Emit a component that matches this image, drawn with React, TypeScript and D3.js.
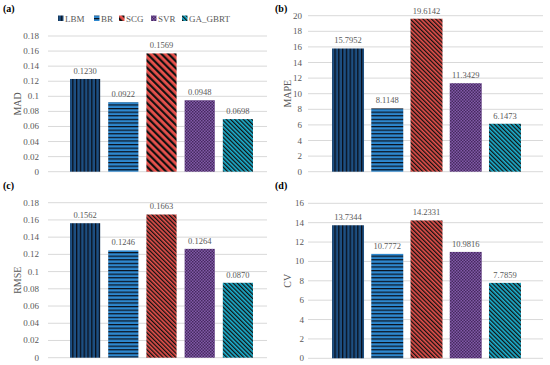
import React from "react";
import * as d3 from "d3";

const categories = ["LBM", "BR", "SCG", "SVR", "GA_GBRT"];
const madValues = [0.123, 0.0922, 0.1569, 0.0948, 0.0698];
const mapeValues = [15.7952, 8.1148, 19.6142, 11.3429, 6.1473];
const rmseValues = [0.1562, 0.1246, 0.1663, 0.1264, 0.087];
const cvValues = [13.7344, 10.7772, 14.2331, 10.9816, 7.7859];
const smallTicks = [0, 0.02, 0.04, 0.06, 0.08, 0.1, 0.12, 0.14, 0.16, 0.18];
const mapeTicks = [0, 2, 4, 6, 8, 10, 12, 14, 16, 18, 20];
const cvTicks = [0, 2, 4, 6, 8, 10, 12, 14, 16];

const FONT = "Liberation Serif";
const GRAY = "#595959";
const tStyle = { fontFamily: FONT };

type Panel = {
  letter: string;
  title: string;
  values: number[];
  ticks: number[];
  max: number;
  y0: number;
  yTop: number;
  gx0: number;
  gx1: number;
  bx0: number;
  bx1: number;
  padIn: number;
  tickX: number;
  titleX: number;
  letterX: number;
  letterY: number;
  scgPat: string;
};

const panels: Panel[] = [
  { letter: "(a)", title: "MAD", values: madValues, ticks: smallTicks, max: 0.18, y0: 171.7, yTop: 36, gx0: 48, gx1: 267, bx0: 66, bx1: 257, padIn: 0.21, tickX: 39, titleX: 17, letterX: 3, letterY: 12, scgPat: "scgWide" },
  { letter: "(b)", title: "MAPE", values: mapeValues, ticks: mapeTicks, max: 20, y0: 171.7, yTop: 15.7, gx0: 308, gx1: 543, bx0: 328.4, bx1: 524.6, padIn: 0.185, tickX: 302, titleX: 287, letterX: 275, letterY: 12, scgPat: "scgFine" },
  { letter: "(c)", title: "RMSE", values: rmseValues, ticks: smallTicks, max: 0.18, y0: 357.7, yTop: 202.7, gx0: 48, gx1: 267, bx0: 66, bx1: 257, padIn: 0.21, tickX: 39, titleX: 17, letterX: 3, letterY: 189, scgPat: "scgFine" },
  { letter: "(d)", title: "CV", values: cvValues, ticks: cvTicks, max: 16, y0: 358.3, yTop: 203.3, gx0: 308, gx1: 543, bx0: 328.4, bx1: 524.6, padIn: 0.185, tickX: 304, titleX: 287, letterX: 275, letterY: 189, scgPat: "scgFine" },
];

const fillFor = (i: number, scgPat: string) =>
  ["url(#lbm)", "url(#br)", `url(#${scgPat})`, "url(#svr)", "url(#ga)"][i];

function PanelView({ p }: { p: Panel }) {
  const y = d3.scaleLinear().domain([0, p.max]).range([p.y0, p.yTop]);
  const x = d3
    .scaleBand<string>()
    .domain(categories)
    .range([p.bx0, p.bx1])
    .paddingInner(p.padIn)
    .paddingOuter(p.padIn / 2);
  const midY = (p.y0 + p.yTop) / 2;
  return (
    <g>
      <text x={p.letterX} y={p.letterY} fontSize={10} fontWeight="bold" fill="#000" style={tStyle}>
        {p.letter}
      </text>
      {p.ticks.map((t) => (
        <g key={t}>
          <line x1={p.gx0} x2={p.gx1} y1={y(t)} y2={y(t)} stroke="#d9d9d9" strokeWidth={1} />
          <text x={p.tickX} y={y(t) + 3} textAnchor="end" fontSize={9} fill={GRAY} style={tStyle}>
            {String(t)}
          </text>
        </g>
      ))}
      <text
        transform={`translate(${p.titleX},${midY}) rotate(-90)`}
        textAnchor="middle"
        dy="0.35em"
        fontSize={10}
        fill={GRAY}
        style={tStyle}
      >
        {p.title}
      </text>
      {p.values.map((v, i) => (
        <g key={categories[i]}>
          <rect
            x={x(categories[i])}
            y={y(v)}
            width={x.bandwidth()}
            height={p.y0 - y(v)}
            fill={fillFor(i, p.scgPat)}
          />
          <text
            x={(x(categories[i]) as number) + x.bandwidth() / 2}
            y={y(v) - 5}
            textAnchor="middle"
            fontSize={8.5}
            fill={GRAY}
            style={tStyle}
          >
            {v.toFixed(4)}
          </text>
        </g>
      ))}
    </g>
  );
}

const legendX = [58, 94, 119, 151, 182];

export default function App() {
  return (
    <svg width={550} height={365} style={{ display: "block", position: "absolute", left: 0, top: 0 }}>
      <defs>
        <pattern id="lbm" patternUnits="userSpaceOnUse" width={3.8} height={4}>
          <rect width={3.8} height={4} fill="#1d4f82" />
          <rect x={0} width={1.3} height={4} fill="#0a0f1a" />
        </pattern>
        <pattern id="br" patternUnits="userSpaceOnUse" width={4} height={3.6}>
          <rect width={4} height={3.6} fill="#2e88cf" />
          <rect y={0} width={4} height={1.2} fill="#0a0f1a" />
        </pattern>
        <pattern id="scgWide" patternUnits="userSpaceOnUse" width={5} height={5} patternTransform="rotate(-45)">
          <rect width={5} height={5} fill="#e8514c" />
          <rect width={2.2} height={5} fill="#111" />
        </pattern>
        <pattern id="scgFine" patternUnits="userSpaceOnUse" width={3} height={3} patternTransform="rotate(-45)">
          <rect width={3} height={3} fill="#e8514c" />
          <rect width={1.3} height={3} fill="#111" />
        </pattern>
        <pattern id="svr" patternUnits="userSpaceOnUse" width={3} height={3}>
          <rect width={3} height={3} fill="#8159a8" />
          <rect width={1.5} height={1.5} fill="#452a5e" />
          <rect x={1.5} y={1.5} width={1.5} height={1.5} fill="#452a5e" />
        </pattern>
        <pattern id="ga" patternUnits="userSpaceOnUse" width={3} height={3} patternTransform="rotate(-45)">
          <rect width={3} height={3} fill="#1cb3d3" />
          <rect width={1.3} height={3} fill="#111" />
        </pattern>
      </defs>
      <rect width={550} height={365} fill="#fff" />
      {panels.map((p) => (
        <PanelView key={p.letter} p={p} />
      ))}
      {categories.map((c, i) => (
        <g key={c}>
          <rect x={legendX[i]} y={15.5} width={5.5} height={5.5} fill={fillFor(i, "scgWide")} />
          <text x={legendX[i] + 7} y={21.5} fontSize={9} fill={GRAY} style={tStyle}>
            {c}
          </text>
        </g>
      ))}
    </svg>
  );
}
